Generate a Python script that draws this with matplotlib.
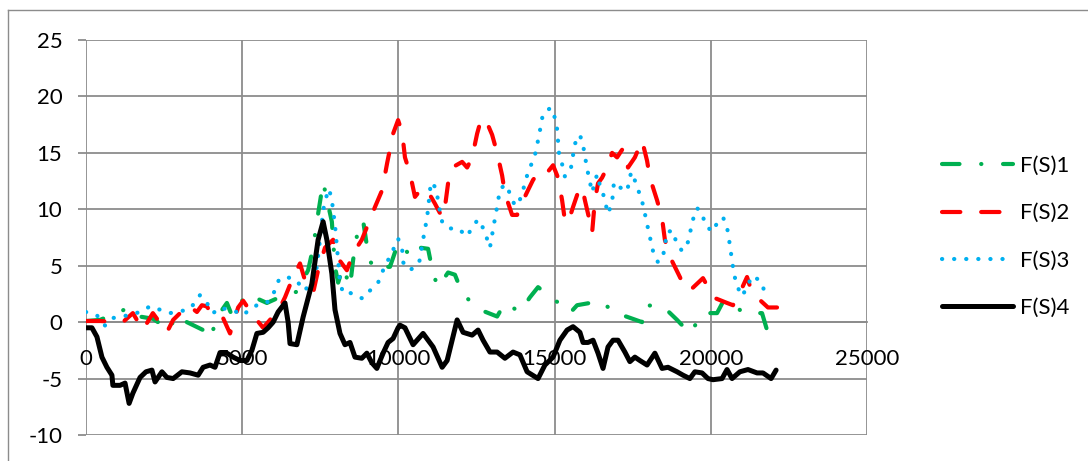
import matplotlib
matplotlib.use("Agg")
import matplotlib.pyplot as plt
from matplotlib.lines import Line2D

plt.rcParams['font.family'] = ['Lato', 'DejaVu Sans']

# ---- data ----
s1_x = [0,450,1310,1500,2140,2690,2850,3230,3750,3970,4230,4510,4670,5150,5790,6110,6310,6750,7110,7270,
        7430,7590,7750,7870,7970,8070,8230,8450,8550,8710,8870,8930,9060,9310,9510,9730,9990,10470,10690,10950,
        11110,11270,11590,11810,12040,12520,13160,13410,13890,14210,14470,15080,15490,15720,16130,16450,16770,16870,17190,17800,
        17890,18470,18920,19330,19750,20200,20390,20710,21030,21640,21800]
s1_y = [0.1,0.2,1.2,0.6,0.3,-0.7,0.6,0.0,-0.7,-1.45,0.6,1.7,0.6,2.5,1.7,2.1,2.3,2.7,4.6,6.6,
        9.6,12.4,10.4,8.9,4.9,3.5,4.9,3.1,5.5,8.3,9.0,7.9,5.5,4.6,4.9,4.9,7.0,5.7,6.6,6.5,
        4.3,3.1,4.4,4.2,2.6,1.2,0.5,1.7,0.9,2.2,3.1,1.8,0.8,1.5,1.7,1.9,1.2,0.8,0.6,0.0,
        1.5,1.4,0.2,-1.0,0.8,0.8,1.8,1.7,0.8,0.8,-0.7]

s2_x = [0,450,1180,1500,1820,2140,2590,2790,3270,3550,3710,3870,4070,4390,4610,4870,5030,5350,5670,5890,
        6210,6370,6630,6850,7010,7270,7430,7650,7910,8030,8350,8550,8830,9250,9480,9640,9830,9990,10120,10210,
        10370,10530,10760,10920,11170,11400,11490,11590,11720,12040,12200,12360,12520,12610,12770,13000,13160,13320,13410,13640,
        13800,13960,14150,14310,14470,14690,14950,15110,15240,15330,15430,15590,15750,15880,15970,16130,16200,16290,16390,16520,
        16680,16840,17000,17190,17350,17570,17800,17960,18050,18280,18440,18530,18690,19010,19170,19330,19750,19910,20070,20520,
        20710,20930,21160,21320,21830,22120]
s2_y = [0.1,0.1,0.0,0.8,-0.7,0.8,-0.9,0.2,1.5,0.9,1.5,1.4,0.45,0.35,-1.0,1.3,1.9,0.6,-0.5,0.2,
        1.3,2.2,4.0,5.2,3.7,2.6,4.6,6.6,7.3,5.8,4.6,6.1,7.3,10.2,11.7,14.1,16.7,17.9,16.8,14.6,
        13.2,11.1,11.9,11.7,10.5,9.3,10.2,12.3,13.7,14.2,13.7,14.6,16.7,17.6,18.1,16.6,15.0,13.0,11.4,9.5,
        9.5,10.6,11.7,12.6,13.2,13.0,13.9,12.8,10.8,9.0,8.8,10.2,11.5,12.0,10.8,8.9,7.9,10.8,12.3,12.8,
        13.7,15.0,14.6,15.4,13.7,14.6,16.1,14.3,12.8,10.8,9.2,7.3,5.8,4.0,3.0,2.8,3.9,3.1,2.2,1.7,
        1.5,2.6,4.0,2.6,1.3,1.3]

s3_x = [0,350,610,830,1340,1730,2050,2370,2690,3270,3490,3650,3870,4070,4290,4550,4830,4990,5310,5570,
        5830,6050,6180,6430,6750,6950,7230,7390,7490,7590,7680,7780,7870,7970,8070,8130,8230,8390,8710,8870,
        9090,9350,9510,9670,9830,9990,10120,10150,10370,10660,10790,10920,11040,11200,11330,11400,11620,11910,12200,12360,
        12550,12740,12930,13060,13190,13250,13440,13600,13730,13860,13990,14180,14340,14500,14630,14880,15010,15080,15140,15240,
        15330,15520,15650,15810,15910,16040,16200,16360,16420,16550,16710,16840,16900,17160,17320,17450,17610,17830,17990,18150,
        18310,18470,18600,18790,18890,19080,19270,19430,19560,19720,19810,20040,20230,20390,20520,20580,20740,20840,21000,21160,
        21320,21570,21730]
s3_y = [0.9,0.6,-0.3,0.35,0.6,0.9,1.4,1.1,0.8,1.1,1.7,2.4,1.7,0.8,1.3,1.1,0.9,0.6,1.2,1.7,
        1.8,2.8,3.8,4.0,3.7,2.8,3.3,4.9,7.3,9.9,11.0,11.8,10.8,8.6,5.5,3.5,2.6,2.7,2.2,2.1,
        2.8,3.5,4.6,5.5,6.4,7.4,6.5,5.3,4.6,5.2,7.3,9.3,12.4,11.9,9.8,8.9,8.3,8.3,7.6,8.4,
        9.1,8.2,6.6,8.7,10.7,11.8,12.2,11.2,10.3,10.6,11.7,13.6,14.4,16.5,18.5,19.0,18.1,17.1,15.0,14.0,
        12.9,13.6,15.8,16.6,15.7,13.6,11.5,13.1,12.4,11.4,9.6,10.6,12.4,11.8,11.6,13.3,12.3,10.4,8.3,6.3,
        5.3,5.8,8.0,8.1,7.1,6.3,7.1,9.1,10.1,9.7,8.7,8.0,8.9,9.3,8.4,7.4,4.3,3.2,2.3,3.1,
        4.1,3.7,2.7]

s4_x = [0,190,350,510,670,830,860,1090,1250,1380,1500,1730,1920,2110,2210,2430,2590,2790,3070,3330,
        3590,3750,3970,4130,4290,4510,4710,4930,5150,5310,5470,5670,5830,5990,6150,6370,6470,6530,6750,6950,
        7230,7430,7590,7710,7870,7970,8130,8290,8450,8610,8830,8990,9150,9310,9510,9670,9830,9990,10050,10210,
        10470,10790,11110,11400,11560,11880,12070,12360,12550,12710,12930,13160,13410,13670,13890,14120,14470,14690,14950,15170,
        15400,15590,15810,15910,16070,16230,16390,16550,16710,16870,17030,17250,17410,17570,17730,17960,18210,18440,18630,18920,
        19110,19330,19490,19720,19910,20070,20360,20520,20680,20930,21190,21480,21670,21930,22090]
s4_y = [-0.5,-0.5,-1.3,-3.1,-4.0,-4.7,-5.6,-5.6,-5.4,-7.2,-6.3,-4.9,-4.4,-4.25,-5.3,-4.4,-4.9,-5.0,-4.4,-4.5,
        -4.7,-4.0,-3.8,-4.0,-2.7,-2.75,-3.1,-3.4,-3.4,-2.5,-1.0,-0.9,-0.5,0.0,0.9,1.7,0.0,-1.9,-2.0,0.45,
        3.4,7.3,8.9,7.3,4.3,1.1,-1.0,-2.0,-1.8,-3.1,-3.2,-2.75,-3.6,-4.1,-2.75,-1.8,-1.45,-0.5,-0.27,-0.5,
        -2.0,-1.0,-2.2,-4.0,-3.4,0.2,-0.9,-1.15,-0.7,-1.6,-2.65,-2.65,-3.2,-2.65,-2.9,-4.4,-5.0,-3.8,-3.1,-1.6,
        -0.7,-0.4,-0.9,-1.8,-1.8,-1.6,-2.75,-4.1,-2.2,-1.6,-1.6,-2.65,-3.5,-3.1,-3.4,-3.8,-2.75,-4.1,-4.0,-4.4,
        -4.7,-5.0,-4.4,-4.5,-5.0,-5.1,-5.0,-4.2,-5.0,-4.4,-4.2,-4.5,-4.5,-5.0,-4.25]

labels = ["F(S)1", "F(S)2", "F(S)3", "F(S)4"]
x_ticks = [0, 5000, 10000, 15000, 20000, 25000]
y_ticks = [-10, -5, 0, 5, 10, 15, 20, 25]

# ---- styling ----
W, H, DPI = 1088, 461, 100
fig = plt.figure(figsize=(W / DPI, H / DPI), dpi=DPI)
ax = fig.add_axes([86 / W, 1 - 435 / H, (867 - 86) / W, (435 - 40) / H])

grid_c = '#8c8c8c'
FS = 16

# axis line at y = 0 (set before ticks, since it resets the axis)
for side in ['top', 'right', 'left']:
    ax.spines[side].set_visible(False)
ax.spines['bottom'].set_position(('data', 0))
ax.spines['bottom'].set_color(grid_c)
ax.spines['bottom'].set_linewidth(1.3)

common = dict(solid_joinstyle='round', dash_joinstyle='round',
              solid_capstyle='round', dash_capstyle='round')
l1, = ax.plot(s1_x, s1_y, color='#00b050', lw=3.0, dashes=(4.2, 5.2, 0.05, 5.2), zorder=3, **common)
l2, = ax.plot(s2_x, s2_y, color='#ff0000', lw=3.0, dashes=(4.4, 5.0), zorder=4, **common)
l3, = ax.plot(s3_x, s3_y, color='#00b0f0', lw=3.0, dashes=(0.05, 2.85), zorder=5, **common)
l4, = ax.plot(s4_x, s4_y, color='#000000', lw=3.6, zorder=6, **common)

ax.set_xlim(0, 25000)
ax.set_ylim(-10, 25)
ax.set_xticks(x_ticks)
ax.set_yticks(y_ticks)
ax.set_xticklabels([str(v) for v in x_ticks], fontsize=FS)
ax.set_yticklabels([str(v) for v in y_ticks], fontsize=FS)
ax.grid(True, color=grid_c, lw=1.3, zorder=1)
ax.set_axisbelow(True)

ax.tick_params(axis='x', length=0, pad=19, colors='black')
ax.tick_params(axis='y', length=6, width=1.3, color=grid_c, pad=11)

leg = fig.legend([l1, l2, l3, l4], labels, loc='upper left',
                 bbox_to_anchor=(942 / W, 1 - 156 / H), frameon=False, fontsize=FS,
                 handlelength=3.2, handletextpad=0.3, labelspacing=1.23,
                 borderpad=0, borderaxespad=0)

# chart-area border
fig.add_artist(Line2D([8 / W, 8 / W], [0, 1 - 10 / H], transform=fig.transFigure, color=grid_c, lw=1.0))
fig.add_artist(Line2D([8 / W, 1], [1 - 10 / H, 1 - 10 / H], transform=fig.transFigure, color=grid_c, lw=1.0))

fig.savefig('out.png', dpi=DPI)
